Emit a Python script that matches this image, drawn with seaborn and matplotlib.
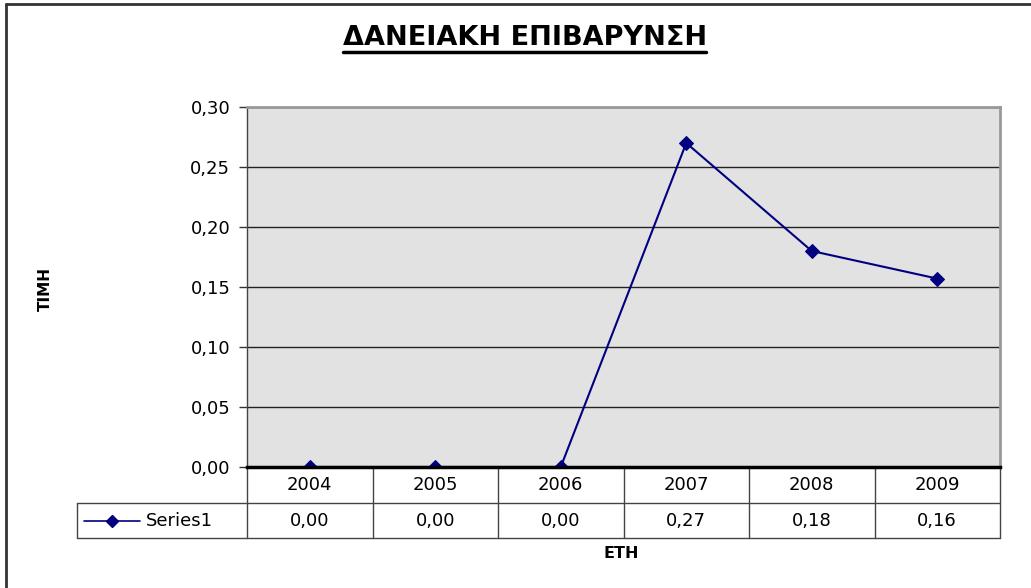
import matplotlib
matplotlib.use("Agg")
import matplotlib.pyplot as plt
import matplotlib.transforms as mtransforms
from matplotlib.lines import Line2D
import seaborn as sns
import pandas as pd

years = ["2004", "2005", "2006", "2007", "2008", "2009"]
values = [0.0, 0.0, 0.0, 0.27, 0.18, 0.157]
series_name = "Series1"
title = "ΔΑΝΕΙΑΚΗ ΕΠΙΒΑΡΥΝΣΗ"
ylabel = "ΤΙΜΗ"
xlabel = "ΕΤΗ"
yticks = [0.0, 0.05, 0.10, 0.15, 0.20, 0.25, 0.30]

sns.set_theme(style="white")
plt.rcParams['font.family'] = ['DejaVu Sans']
plt.rcParams['text.color'] = 'black'
plt.rcParams['ytick.color'] = 'black'
plt.rcParams['xtick.color'] = 'black'
plt.rcParams['ytick.labelcolor'] = 'black'

FS = 13
W, H = 1031, 588
fig = plt.figure(figsize=(W / 100, H / 100), dpi=100)
fig.patch.set_facecolor("white")

L, R, T, B = 247, 1000, 107, 467
ax = fig.add_axes([L / W, 1 - B / H, (R - L) / W, (B - T) / H])
ax.set_facecolor("#E2E2E2")

df = pd.DataFrame({"x": range(len(years)), "y": values})
sns.lineplot(data=df, x="x", y="y", ax=ax, color="#000080", lw=1.5,
             marker="D", markersize=7, markeredgecolor="#000080", zorder=5)

ax.set_xlim(-0.5, len(years) - 0.5)
ax.set_ylim(0, 0.30)
ax.set_yticks(yticks)
ax.set_yticklabels([f"{v:.2f}".replace(".", ",") for v in yticks], fontsize=FS,
                   color="black")
ax.set_xticks([])
ax.set_xlabel("")
ax.set_ylabel("")
for v in yticks[1:-1]:
    ax.axhline(v, color="#222222", lw=1, zorder=1)
ax.axhline(0.30, color="#222222", lw=1, zorder=1)
ax.tick_params(axis="y", length=6, width=1, color="#333333", direction="out", pad=6, left=True)

for s in ["top", "right"]:
    ax.spines[s].set_color("#999999")
    ax.spines[s].set_linewidth(2)
ax.spines["left"].set_color("#444444")
ax.spines["left"].set_linewidth(1)
ax.spines["bottom"].set_color("black")
ax.spines["bottom"].set_linewidth(2.5)
ax.spines["bottom"].set_zorder(6)

# data table below the axes
trans = mtransforms.blended_transform_factory(ax.transData, ax.transAxes)
ah = B - T
r1 = -36 / ah
r2 = -71 / ah
lc = "#444444"
n = len(years)
for i in range(n + 1):
    ax.plot([i - 0.5, i - 0.5], [0, r2], transform=trans, color=lc, lw=1, clip_on=False)
ax.plot([-0.5, n - 0.5], [r1, r1], transform=trans, color=lc, lw=1, clip_on=False)
ax.plot([-0.5, n - 0.5], [r2, r2], transform=trans, color=lc, lw=1, clip_on=False)
x0 = (77 - L) / (R - L)
ax.plot([x0, 0], [r1, r1], transform=ax.transAxes, color=lc, lw=1, clip_on=False)
ax.plot([x0, 0], [r2, r2], transform=ax.transAxes, color=lc, lw=1, clip_on=False)
ax.plot([x0, x0], [r1, r2], transform=ax.transAxes, color=lc, lw=1, clip_on=False)

for i, (yr, v) in enumerate(zip(years, values)):
    ax.text(i, r1 / 2, yr, transform=trans, ha="center", va="center", fontsize=FS,
            color="black")
    ax.text(i, (r1 + r2) / 2, f"{v:.2f}".replace(".", ","), transform=trans,
            ha="center", va="center", fontsize=FS, color="black")

# legend key in table
ym = (r1 + r2) / 2
lx1, lx2 = (84 - L) / (R - L), (140 - L) / (R - L)
ax.plot([lx1, lx2], [ym, ym], transform=ax.transAxes, color="#000080", lw=1.2, clip_on=False)
ax.plot([(lx1 + lx2) / 2], [ym], transform=ax.transAxes, color="#000080", marker="D",
        markersize=6, clip_on=False)
ax.text((146 - L) / (R - L), ym, series_name, transform=ax.transAxes, ha="left",
        va="center", fontsize=FS, color="black")

# titles
fig.text(525 / W, 1 - 38 / H, title, ha="center", va="center", fontsize=19.5,
         fontweight="bold", color="black")
fig.add_artist(Line2D([343 / W, 706 / W], [1 - 52 / H, 1 - 52 / H], color="black", lw=2.5))
fig.text(45 / W, 1 - 289 / H, ylabel, ha="center", va="center", rotation=90,
         fontsize=11, fontweight="bold", color="black")
fig.text(621 / W, 1 - 553 / H, xlabel, ha="center", va="center", fontsize=11.5,
         fontweight="bold", color="black")

# chart border (top and left visible)
fig.add_artist(Line2D([6 / W, 6 / W], [0, 1 - 4 / H], color="#333333", lw=2))
fig.add_artist(Line2D([6 / W, 1], [1 - 4 / H, 1 - 4 / H], color="#333333", lw=2))

fig.savefig("out.png", dpi=100)
